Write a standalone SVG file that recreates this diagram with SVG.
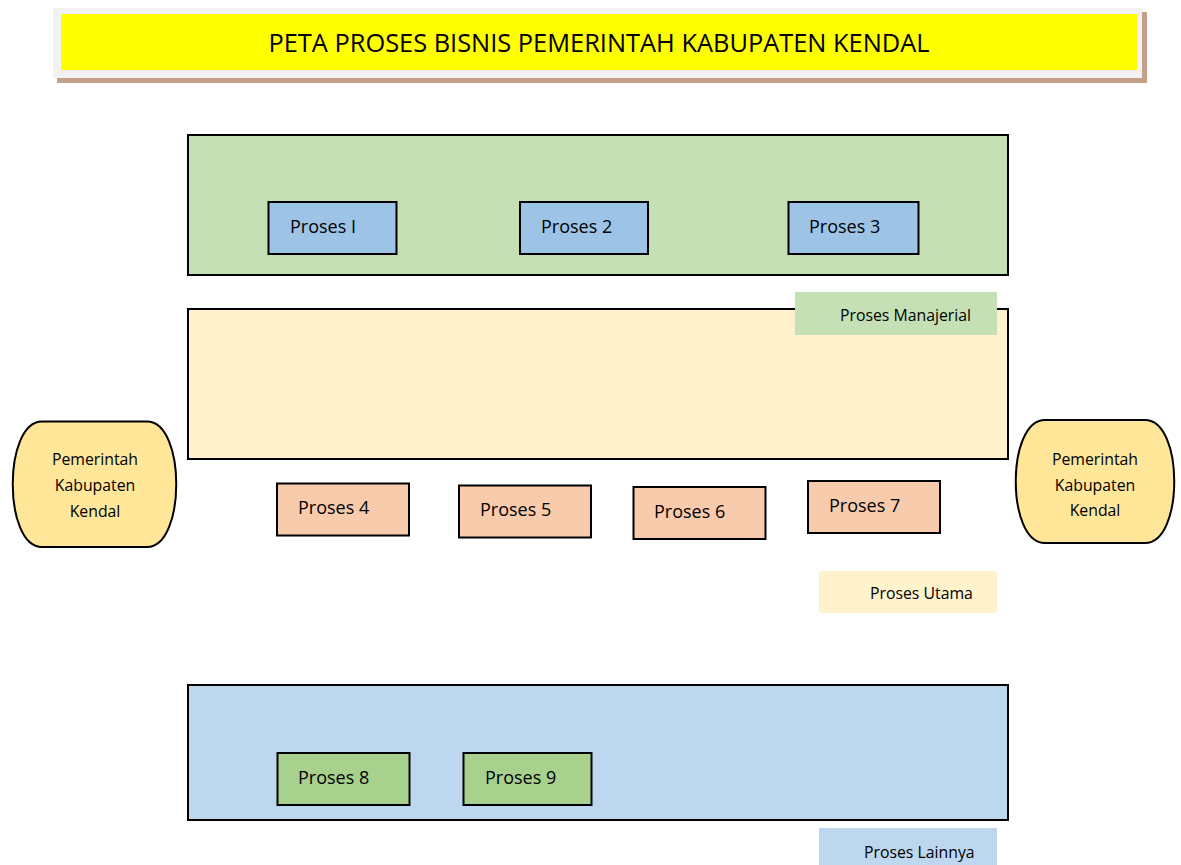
<svg xmlns="http://www.w3.org/2000/svg" width="1181" height="865" viewBox="0 0 1181 865">
<style>
text{font-family:"Open Sans","Liberation Sans",sans-serif;fill:#000}
.band{stroke:#000;stroke-width:2}
.proc{stroke:#000;stroke-width:2}
.p{font-size:18px}
.lbl{font-size:15.8px}
.term{fill:#ffe699;stroke:#000;stroke-width:2}
.t{font-size:15.8px;text-anchor:middle}
</style>
<rect width="1181" height="865" fill="#fff"/>
<g id="title">
<rect x="57" y="12" width="1090" height="71" fill="#c4a089"/>
<rect x="53" y="8" width="1089" height="70" fill="#f2f2f2"/>
<rect x="61" y="14" width="1076" height="56" fill="#ffff00"/>
<text x="599" y="52" font-size="25.4" text-anchor="middle">PETA PROSES BISNIS PEMERINTAH KABUPATEN KENDAL</text>
</g>
<g id="band-manajerial">
<rect class="band" x="188" y="135" width="820" height="140" fill="#c5e0b4"/>
</g>
<g id="band-utama">
<rect class="band" x="188" y="309" width="820" height="150" fill="#fff2cc"/>
</g>
<g id="band-lainnya">
<rect class="band" x="188" y="685" width="820" height="135" fill="#bdd7ee"/>
</g>
<g id="proses1"><rect class="proc" x="268.5" y="202" width="128" height="52" fill="#9dc3e6"/><text class="p" x="290" y="233">Proses I</text></g>
<g id="proses2"><rect class="proc" x="520" y="202" width="128" height="52" fill="#9dc3e6"/><text class="p" x="541" y="233">Proses 2</text></g>
<g id="proses3"><rect class="proc" x="788.5" y="202" width="130" height="52" fill="#9dc3e6"/><text class="p" x="809" y="233">Proses 3</text></g>
<g id="label-manajerial"><rect x="795" y="292" width="202" height="43" fill="#c5e0b4"/><text class="lbl" x="840" y="321">Proses Manajerial</text></g>
<g id="pemkab-left">
<path class="term" d="M42,421.5 H147 C186,421.5 186,547 147,547 H42 C3,547 3,421.5 42,421.5 Z"/>
<text class="t" x="95" y="465">Pemerintah</text>
<text class="t" x="95" y="491">Kabupaten</text>
<text class="t" x="95" y="517">Kendal</text>
</g>
<g id="pemkab-right">
<path class="term" d="M1045,420 H1145 C1184,420 1184,543 1145,543 H1045 C1006,543 1006,420 1045,420 Z"/>
<text class="t" x="1095" y="465">Pemerintah</text>
<text class="t" x="1095" y="491">Kabupaten</text>
<text class="t" x="1095" y="516">Kendal</text>
</g>
<g id="proses4"><rect class="proc" x="277" y="483.5" width="132" height="52" fill="#f8cbad"/><text class="p" x="298" y="514">Proses 4</text></g>
<g id="proses5"><rect class="proc" x="459" y="485.5" width="132" height="52" fill="#f8cbad"/><text class="p" x="480" y="516">Proses 5</text></g>
<g id="proses6"><rect class="proc" x="633.5" y="487" width="132" height="52" fill="#f8cbad"/><text class="p" x="654" y="518">Proses 6</text></g>
<g id="proses7"><rect class="proc" x="808" y="481" width="132" height="52" fill="#f8cbad"/><text class="p" x="829" y="512">Proses 7</text></g>
<g id="label-utama"><rect x="819" y="571" width="178" height="42" fill="#fff2cc"/><text class="lbl" x="870" y="599">Proses Utama</text></g>
<g id="proses8"><rect class="proc" x="277.5" y="753" width="132" height="52" fill="#a9d18e"/><text class="p" x="298" y="784">Proses 8</text></g>
<g id="proses9"><rect class="proc" x="463.5" y="753" width="128" height="52" fill="#a9d18e"/><text class="p" x="485" y="784">Proses 9</text></g>
<g id="label-lainnya"><rect x="819" y="828" width="178" height="37" fill="#bdd7ee"/><text class="lbl" x="864" y="858">Proses Lainnya</text></g>
<g id="connectors"></g>
</svg>
